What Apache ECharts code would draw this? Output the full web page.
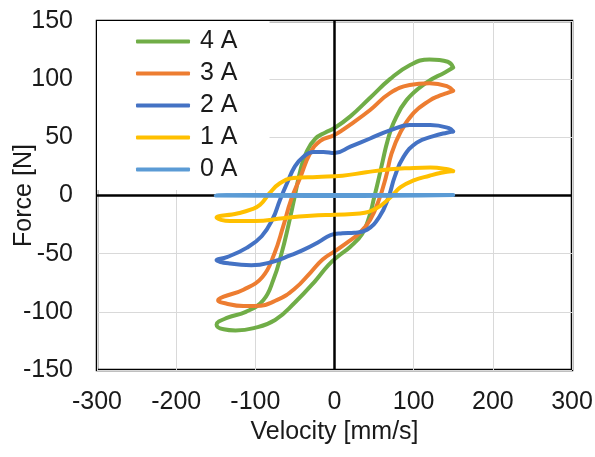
<!DOCTYPE html>
<html>
<head>
<meta charset="utf-8">
<script src="https://cdn.jsdelivr.net/npm/echarts@6/dist/echarts.min.js"></script>
<style>
  html, body { margin: 0; padding: 0; background: #fff; }
  #chart { width: 595px; height: 457px; }
</style>
</head>
<body>
<div id="chart"></div>
<script>
// Force–velocity hysteresis loops of the damper at different coil currents.
// Each loop: [velocity mm/s, force N], traced from the positive tip along the
// upper branch to the negative tip, then back along the lower branch.
const seriesNames = ['4 A', '3 A', '2 A', '1 A', '0 A'];
const seriesColors = ['#70AD47', '#ED7D31', '#4472C4', '#FFC000', '#5B9BD5'];

const loop4A = [
  [150, 110], [143, 115], [120, 117], [95, 112], [70, 100], [45, 84], [20, 68],
  [0, 58], [-12, 54], [-24, 49], [-35, 38], [-43, 22], [-50, 0], [-58, -25],
  [-67, -50], [-77, -72], [-90, -90], [-112, -100], [-135, -105], [-149, -111],
  [-140, -115], [-125, -116], [-102, -114], [-75, -107], [-50, -92], [-25, -74],
  [-8, -60], [5, -52], [20, -44], [35, -33], [44, -18], [50, -2], [55, 12],
  [61, 30], [67, 47], [75, 63], [91, 82], [116, 97], [140, 106], [150, 110]
];
const loop3A = [
  [150, 90], [142, 94], [120, 96.5], [95, 95], [70, 88], [45, 73.5], [20, 61],
  [0, 52], [-18, 47], [-31, 36], [-43, 16], [-55, -4], [-65, -27], [-76, -50],
  [-91, -70], [-115, -81], [-140, -87], [-147, -90],
  [-136, -93], [-115, -95], [-100, -95], [-73, -90], [-50, -80], [-30, -66],
  [-15, -55], [0, -48], [15, -41], [32, -32], [45, -21], [56, -4], [65, 16],
  [72, 36], [83, 54], [100, 71], [121, 82], [130, 85], [142, 88], [150, 90]
];
const loop2A = [
  [150, 55], [144, 58], [121, 60.5], [95, 60.5], [70, 56], [45, 49], [20, 42],
  [0, 36.5], [-14, 37.5], [-27, 37.5], [-39, 33.5], [-50, 25], [-60, 10.5],
  [-69, -4], [-78, -20], [-92, -35], [-111, -45], [-136, -53], [-149, -55.5],
  [-132, -58.5], [-105, -60], [-78, -57], [-56, -51.5], [-40, -47], [-20, -40],
  [-5, -34], [10, -32.5], [25, -32], [41, -29.5], [57, -18], [68, -2], [76, 16],
  [87, 33], [104, 45.5], [125, 51], [142, 54], [150, 55]
];
const loop1A = [
  [150, 21], [143, 22.5], [121, 24], [95, 23.5], [70, 22.5], [40, 20], [10, 17],
  [-22, 16], [-52, 15], [-69, 10.5], [-82, 2], [-94, -8], [-105, -12],
  [-123, -15.5], [-149, -19],
  [-132, -22], [-100, -22], [-65, -19.5], [-30, -17.5], [0, -16.5], [32, -15.5],
  [53, -11], [70, -2], [83, 7], [100, 13], [120, 17], [135, 19.5], [150, 21]
];
const loop0A = [
  [150, 0.5], [0, 0.5], [-150, 0], [0, -0.5], [150, 0.5]
];
const loops = [loop4A, loop3A, loop2A, loop1A, loop0A];

// Axis ranges and tick steps
const xMin = -300, xMax = 300, xStep = 100;
const yMin = -150, yMax = 150, yStep = 50;

const FONT = 'Liberation Sans, Arial, sans-serif';
const TEXT_COLOR = '#1a1a1a';
const FS = 25;

const chart = echarts.init(document.getElementById('chart'), null, { renderer: 'canvas' });

const series = [
  {
    // zero reference lines (vertical at velocity 0, horizontal at force 0)
    name: 'zero-lines',
    type: 'line',
    data: [],
    z: 1,
    silent: true,
    markLine: {
      silent: true,
      symbol: 'none',
      animation: false,
      label: { show: false },
      lineStyle: { color: '#000', width: 2.5, type: 'solid' },
      data: [{ xAxis: 0 }, { yAxis: 0 }]
    }
  }
];
seriesNames.forEach((name, i) => {
  series.push({
    name: name,
    type: 'line',
    data: loops[i],
    smooth: 0.45,
    showSymbol: false,
    symbol: 'none',
    z: 2 + i,
    lineStyle: { color: seriesColors[i], width: 4, cap: 'round', join: 'round' },
    itemStyle: { color: seriesColors[i] }
  });
});

chart.setOption({
  animation: false,
  backgroundColor: '#fff',
  textStyle: { fontFamily: FONT },
  grid: {
    left: 97, right: 23, top: 21, bottom: 87,
    containLabel: false,
    outerBoundsMode: 'none',
    show: true, borderColor: '#000', borderWidth: 2.5, backgroundColor: 'transparent'
  },
  legend: {
    data: seriesNames,
    orient: 'vertical',
    left: 97, top: 21,
    padding: [8, 32, 8, 39],
    backgroundColor: '#fff',
    icon: 'roundRect',
    itemWidth: 54, itemHeight: 4, itemGap: 7,
    textStyle: {
      fontFamily: FONT, fontSize: FS, color: TEXT_COLOR, lineHeight: 25,
      padding: [0, 0, 0, 5]
    }
  },
  xAxis: {
    type: 'value',
    min: xMin, max: xMax, interval: xStep,
    name: 'Velocity [mm/s]',
    nameLocation: 'middle',
    nameGap: 50,
    nameMoveOverlap: false,
    nameTextStyle: { fontFamily: FONT, fontSize: FS, color: TEXT_COLOR },
    axisLine: { show: false, onZero: false },
    axisTick: { show: false },
    axisLabel: { fontFamily: FONT, fontSize: FS, color: TEXT_COLOR, margin: 20 },
    splitLine: { show: true, lineStyle: { color: '#d9d9d9', width: 1 } }
  },
  yAxis: {
    type: 'value',
    min: yMin, max: yMax, interval: yStep,
    name: 'Force [N]',
    nameLocation: 'middle',
    nameGap: 60,
    nameMoveOverlap: false,
    nameTextStyle: { fontFamily: FONT, fontSize: FS, color: TEXT_COLOR },
    axisLine: { show: false, onZero: false },
    axisTick: { show: false },
    axisLabel: { fontFamily: FONT, fontSize: FS, color: TEXT_COLOR, margin: 24 },
    splitLine: { show: true, lineStyle: { color: '#d9d9d9', width: 1 } }
  },
  series: series
});
</script>
</body>
</html>
